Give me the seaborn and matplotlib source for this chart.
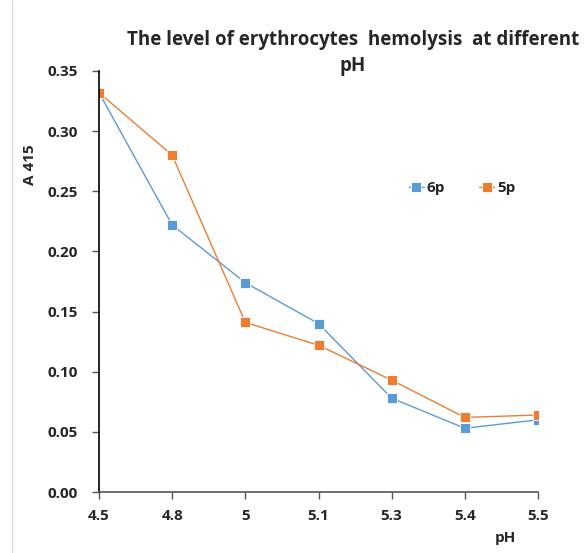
import matplotlib
matplotlib.use("Agg")
import matplotlib.pyplot as plt
import seaborn as sns
import pandas as pd
from matplotlib.lines import Line2D

ph_labels = ["4.5", "4.8", "5", "5.1", "5.3", "5.4", "5.5"]
series_6p = [0.332, 0.222, 0.174, 0.140, 0.078, 0.053, 0.060]
series_5p = [0.332, 0.280, 0.141, 0.122, 0.093, 0.062, 0.064]
series_names = ["6p", "5p"]
colors = {"6p": "#5B9BD5", "5p": "#ED7D31"}

sns.set_style("white")
plt.rcParams['font.family'] = ['Open Sans', 'DejaVu Sans']
plt.rcParams['font.weight'] = 'bold'

df = pd.DataFrame({
    "pH": ph_labels * 2,
    "A": series_6p + series_5p,
    "series": ["6p"] * len(ph_labels) + ["5p"] * len(ph_labels),
})

fig = plt.figure(figsize=(5.84, 5.53), dpi=100)
ax = fig.add_axes([99/584, 1-492/553, (538-99)/584, (492-71)/553])

sns.lineplot(data=df, x="pH", y="A", hue="series", hue_order=series_names,
             palette=colors, marker="s", markersize=6.5, markeredgewidth=0.6,
             markeredgecolor="white", linewidth=1.0, sort=False, ax=ax,
             legend=False)

ax.set_xlim(0, len(ph_labels) - 1)
ax.set_ylim(0, 0.35)
ax.set_yticks([0, 0.05, 0.10, 0.15, 0.20, 0.25, 0.30, 0.35])
ax.set_yticklabels([f"{v:.2f}" for v in ax.get_yticks()], fontsize=11, fontweight='bold')
ax.set_xticks(range(len(ph_labels)))
ax.set_xticklabels(ph_labels, fontsize=11, fontweight='bold')
ax.tick_params(axis='both', direction='out', length=5, width=1, color='#555555',
               bottom=True, left=True)
ax.tick_params(axis='y', pad=10)
ax.tick_params(axis='x', pad=7)
for s in ['top', 'right']:
    ax.spines[s].set_visible(False)
ax.spines['left'].set_color('black')
ax.spines['bottom'].set_color('#555555')
ax.spines['left'].set_linewidth(1.2)
ax.spines['bottom'].set_linewidth(1.2)
ax.set_xlabel("")
ax.set_ylabel("")

fig.text(30/584, 1-165/553, "A 415", rotation=90, ha='center', va='center',
         fontsize=11, fontweight='bold')
fig.text(505/584, 1-538/553, "pH", ha='center', va='center',
         fontsize=11, fontweight='bold')
fig.text(353/584, 1-40/553, "The level of erythrocytes  hemolysis  at different",
         ha='center', va='center', fontsize=13.5, fontweight='bold')
fig.text(353/584, 1-66/553, "pH", ha='center', va='center', fontsize=13.5, fontweight='bold')

handles = [Line2D([0], [0], color=colors[n], marker='s', markersize=6.5,
                  markeredgecolor='white', markeredgewidth=0.6, linewidth=1.0)
           for n in series_names]
ax.legend(handles, series_names, ncol=2, frameon=False, loc='center',
          bbox_to_anchor=(462/584, 1-188/553), bbox_transform=fig.transFigure,
          prop={'weight': 'bold', 'size': 11}, handlelength=1.0, handletextpad=0.2,
          columnspacing=2.2)

fig.add_artist(Line2D([12/584, 12/584], [0, 1], color='#dddddd', linewidth=1,
                      transform=fig.transFigure))

fig.savefig("out.png", dpi=100)
